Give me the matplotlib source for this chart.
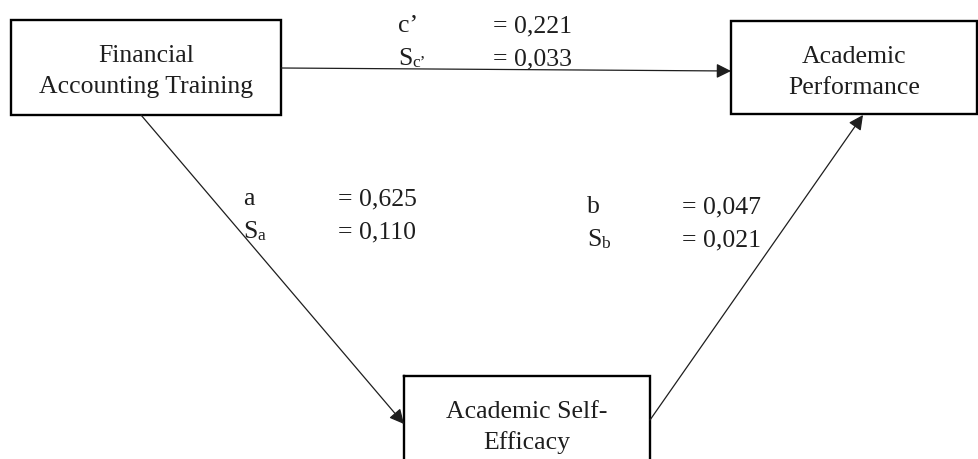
import matplotlib

matplotlib.use("Agg")
import matplotlib.pyplot as plt
from matplotlib.patches import Rectangle

plt.rcParams["font.family"] = ["Liberation Serif", "DejaVu Serif"]

# nodes of the mediation model
node_names = ["Financial\nAccounting Training", "Academic\nPerformance", "Academic Self-\nEfficacy"]

# path coefficients and their standard errors
path_labels = ["c’", "a", "b"]
path_subs = ["c’", "a", "b"]
path_coefs = [0.221, 0.625, 0.047]
path_errors = [0.033, 0.110, 0.021]


def fmt(v):
    return "= " + f"{v:.3f}".replace(".", ",")


# layout (pixel coordinates, y downwards)
boxes = [(11, 20, 270, 95), (731, 21, 246, 93), (404, 376, 246, 100)]
text_pos = [(398, 493, 32), (243, 338, 205), (587, 682, 213)]
arrows = [((281, 68), (731, 71)), ((141, 115), (404, 424)), ((650, 420), (863, 115))]

fig = plt.figure(figsize=(9.79, 4.59), dpi=100)
ax = fig.add_axes([0, 0, 1, 1])
ax.set_xlim(0, 979)
ax.set_ylim(459, 0)
ax.axis("off")

fs = 18.5
ink = "#1e1e1e"
for (x, y, w, h), name in zip(boxes, node_names):
    ax.add_patch(Rectangle((x, y), w, h, fill=False, edgecolor="black", linewidth=1.7,
                           joinstyle="miter", capstyle="projecting", clip_on=False))
    lines = name.split("\n")
    for i, ln in enumerate(lines):
        ax.text(x + w / 2, y + 42 + i * 31, ln, ha="center", va="baseline",
                fontsize=fs, color=ink)

for (start, end) in arrows:
    ax.annotate("", xy=end, xytext=start,
                arrowprops=dict(arrowstyle="-|>", color=ink, lw=0.9,
                                mutation_scale=22, shrinkA=0, shrinkB=0))

for (xl, xv, yb), lab, sub, coef, err in zip(text_pos, path_labels, path_subs,
                                              path_coefs, path_errors):
    ax.text(xl, yb, lab, ha="left", va="baseline", fontsize=fs, color=ink)
    ax.text(xv, yb, fmt(coef), ha="left", va="baseline", fontsize=fs, color=ink)
    y2 = yb + 33
    ax.text(xl, y2, "S", ha="left", va="baseline", fontsize=fs, color=ink)
    ax.text(xl + 14, y2 + 2, sub, ha="left", va="baseline", fontsize=12.5, color=ink)
    ax.text(xv, y2, fmt(err), ha="left", va="baseline", fontsize=fs, color=ink)

fig.savefig("out.png", dpi=100)
